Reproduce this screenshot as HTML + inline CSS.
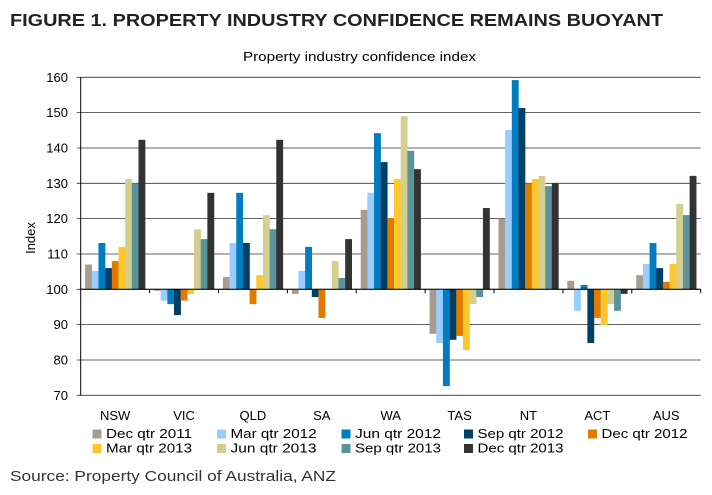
<!DOCTYPE html>
<html><head><meta charset="utf-8"><style>
body{margin:0;background:#fff;width:712px;height:490px;overflow:hidden;font-family:"Liberation Sans",sans-serif}
svg text{font-family:"Liberation Sans",sans-serif}
</style></head><body>
<svg id="chart" width="712" height="490" xmlns="http://www.w3.org/2000/svg">
<text x="10" y="26" font-size="17.5" font-weight="bold" fill="#222" textLength="653" lengthAdjust="spacingAndGlyphs">FIGURE 1. PROPERTY INDUSTRY CONFIDENCE REMAINS BUOYANT</text>
<text x="243" y="61" font-size="12.5" fill="#000" textLength="233" lengthAdjust="spacingAndGlyphs">Property industry confidence index</text>
<text transform="translate(35,238) rotate(-90)" font-size="13" text-anchor="middle" fill="#000">Index</text>
<text x="10" y="481" font-size="14.5" fill="#333" textLength="326" lengthAdjust="spacingAndGlyphs">Source: Property Council of Australia, ANZ</text>
<g id="grid"></g><g id="bars"></g><g id="axes"></g><g id="legend"></g>
</svg>
<script>
const categories=["NSW","VIC","QLD","SA","WA","TAS","NT","ACT","AUS"];
const seriesNames=["Dec qtr 2011","Mar qtr 2012","Jun qtr 2012","Sep qtr 2012","Dec qtr 2012","Mar qtr 2013","Jun qtr 2013","Sep qtr 2013","Dec qtr 2013"];
const seriesColors=["#a89c8e","#99ccff","#007dc0","#003f66","#e07b00","#ffc72c","#d4ce8f","#5a939b","#333333"];
const dec11=[107,99.6,103.5,98.7,122.5,87.4,119.9,102.4,104];
const mar12=[105.2,96.8,113.1,105.2,127.3,84.8,145.1,93.9,107.2];
const jun12=[113.1,95.8,127.3,112,144.2,72.6,159.2,101.2,113.1];
const sep12=[106,92.7,113.1,97.8,136,85.7,151.3,84.8,106];
const dec12=[108,96.8,95.8,91.9,120.2,86.8,130,91.9,102.1];
const mar13=[112,98.7,104,100,131.2,82.8,131.2,89.9,107.2];
const jun13=[131.2,117,121,108,149,95.8,132.1,95.8,124.2];
const sep13=[130,114.2,117,103.2,139.2,97.8,129.2,93.9,121];
const dec13=[142.3,127.3,142.3,114.2,134,123,130,98.7,132.1];
const yTicks=[70,80,90,100,110,120,130,140,150,160];
const series=[dec11,mar12,jun12,sep12,dec12,mar13,jun13,sep13,dec13];
const NS="http://www.w3.org/2000/svg";
const L=80.7,R=700.7,T=77.3,B=395.3,yMin=70,yMax=160,base=100;
const y=v=>B-(v-yMin)/(yMax-yMin)*(B-T);
const gw=(R-L)/categories.length;
const bw=6.67,off=(gw-bw*9)/2;
function mk(tag,attrs,parent){const e=document.createElementNS(NS,tag);for(const k in attrs)e.setAttribute(k,attrs[k]);document.getElementById(parent).appendChild(e);return e;}
yTicks.forEach(t=>{
  const ln=mk('line',{x1:L-4,x2:R,y1:y(t),y2:y(t),stroke:'#333','stroke-width':0.8},'grid');
  
  
  const tx=mk('text',{x:68,y:y(t)+4.5,'font-size':13,'text-anchor':'end',fill:'#000'},'axes');
  tx.textContent=t;
  
  
});
series.forEach((s,si)=>{
  s.forEach((v,ci)=>{
    const x=L+ci*gw+off+si*bw;
    const y1=Math.min(y(v),y(base)),h=Math.abs(y(v)-y(base));
    const r=mk('rect',{x:x,y:y1,width:bw+0.2,height:h,fill:seriesColors[si]},'bars');
    
    
  });
});
const ya=mk('line',{x1:L,x2:L,y1:T,y2:B,stroke:'#000','stroke-width':1},'axes');


const xa=mk('line',{x1:L,x2:R,y1:y(base),y2:y(base),stroke:'#000','stroke-width':1},'axes');


for(let i=1;i<=categories.length;i++){
  const tk=mk('line',{x1:L+i*gw,x2:L+i*gw,y1:y(base),y2:y(base)+4,stroke:'#000'},'axes');
  
  
}
categories.forEach((c,i)=>{
  const tx=mk('text',{x:L+i*gw+gw/2,y:420,'font-size':13,'text-anchor':'middle',fill:'#000'},'axes');
  tx.textContent=c;
  
  
});
const lx=[92.5,217,341.5,464,588];
seriesNames.forEach((n,i)=>{
  const row=i<5?0:1,col=i<5?i:i-5;
  const yy=429.5+row*14.5;
  const sq=mk('rect',{x:lx[col],y:yy,width:9,height:9,fill:seriesColors[i]},'legend');
  
  
  const tx=mk('text',{x:lx[col]+13.5,y:yy+8.5,'font-size':13,fill:'#000',textLength:86,lengthAdjust:'spacingAndGlyphs'},'legend');
  tx.textContent=n;
  
  
});
</script>
</body></html>
